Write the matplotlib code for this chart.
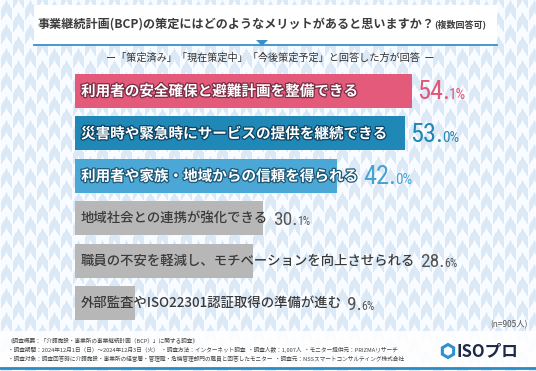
import numpy as np
import matplotlib
matplotlib.use("Agg")
import matplotlib.pyplot as plt
from matplotlib import patheffects, font_manager
from matplotlib.patches import Rectangle, FancyBboxPatch, Polygon, RegularPolygon
from matplotlib.transforms import IdentityTransform, offset_copy

plt.rcParams['font.family'] = ['Noto Sans CJK JP', 'DejaVu Sans']

# ---------------------------------------------------------------- data
labels = [
    "利用者の安全確保と避難計画を整備できる",
    "災害時や緊急時にサービスの提供を継続できる",
    "利用者や家族・地域からの信頼を得られる",
    "地域社会との連携が強化できる",
    "職員の不安を軽減し、モチベーションを向上させられる",
    "外部監査やISO22301認証取得の準備が進む",
]
values = [54.1, 53.0, 42.0, 30.1, 28.6, 9.6]
bar_colors = ["#E35A7B", "#1F88B6", "#4AA7D6", "#B7B7B7", "#B7B7B7", "#B7B7B7"]
value_colors = ["#E0577A", "#2187B4", "#45A2D2", "#555555", "#555555", "#555555"]
outline_colors = ["#7A2E45", "#0E4463", "#1C5878", None, None, None]

title = "事業継続計画(BCP)の策定にはどのようなメリットがあると思いますか？"
title_small = "(複数回答可)"
subtitle = "ー「策定済み」「現在策定中」「今後策定予定」と回答した方が回答  ー"
n_note = "(n=905人)"
footer = [
    "《調査概要：「介護施設・事業所の事業継続計画（BCP）」に関する調査》",
    "・調査期間：2024年12月1日（日）～2024年12月3日（火）  ・調査方法：インターネット調査  ・調査人数：1,007人  ・モニター提供元：PRIZMAリサーチ",
    "・調査対象：調査回答時に介護施設・事業所の経営層・管理職・危機管理部門の職員と回答したモニター  ・調査元：NSSスマートコンサルティング株式会社",
]

names = {f.name for f in font_manager.fontManager.ttflist}
num_font = next((f for f in ["Roboto Condensed", "Liberation Sans Narrow", "Roboto"] if f in names), "DejaVu Sans")

W, H = 536, 371
fig = plt.figure(figsize=(W / 100, H / 100), dpi=100)

# ---------------------------------------------------------------- background
bg = fig.add_axes([0, 0, 1, 1])
bg.set_xlim(0, W)
bg.set_ylim(H, 0)
bg.axis('off')

yy, xx = np.mgrid[0:H, 0:W]
cw, ch = 12, 24
col = xx // cw
u = (xx % cw) / cw
v = ((yy + (col % 2) * ch / 2) % ch) / ch
shade = ((v - np.abs(u - 0.5) * 0.8) % 1.0) < 0.5
pale = np.array([0.86, 0.915, 0.97])
white = np.array([0.975, 0.985, 1.0])
img = np.where(shade[..., None], pale, white)
img[(xx % cw) == 0] = white
bg.imshow(img, extent=(0, W, H, 0), aspect='auto', zorder=0)

# title box
bg.add_patch(FancyBboxPatch((34, 5), 463, 40, boxstyle="round,pad=0,rounding_size=3",
                            fc="white", ec="none", zorder=1))
bg.plot([34, 497], [45, 45], color="#3A90C8", lw=1.3, zorder=2)
bg.add_patch(Polygon([[256, 40], [268, 40], [262, 46]], closed=True, fc="#3A90C8", ec="none", zorder=2))
t = bg.text(38, 24, title, fontsize=8.7, fontweight='bold', color="#3C3C3C", va='center', ha='left', zorder=3)
fig.canvas.draw()
r = fig.canvas.get_renderer()
bb = t.get_window_extent(r)
bg.text(bg.transData.inverted().transform((bb.x1, 0))[0] - 1, 24.5, title_small, fontsize=6.5,
        fontweight='bold', color="#3C3C3C", va='center', ha='left', zorder=3)
bg.text(270, 58, subtitle, fontsize=7.3, color="#333333", va='center', ha='center', zorder=3)

# footer
bg.add_patch(Rectangle((0, 331), W, 36, fc="white", ec="none", alpha=0.9, zorder=1))
bg.plot([0, W], [368, 368], color="#2A8CC4", lw=2, zorder=2)
for i, line in enumerate(footer):
    bg.text(8, 340 + i * 9.5, line, fontsize=4.1, color="#444444", va='center', ha='left', zorder=3)
bg.text(528, 325, n_note, fontsize=6, color="#555555", va='center', ha='right', zorder=3)
bg.add_patch(RegularPolygon((448, 351), numVertices=6, radius=6.5, orientation=0,
                            fc="white", ec="#2E92D2", lw=2.2, zorder=3))
bg.text(456, 351, "ISOプロ", fontsize=12, fontweight='bold', color="#1C2A48", va='center', ha='left', zorder=3)

# ---------------------------------------------------------------- bars
px_per_pct = 6.23
left_px = 75
top_px, bot_px = 69.5, 324.5
ax = fig.add_axes([left_px / W, 1 - bot_px / H, 1 - left_px / W, (bot_px - top_px) / H])
ax.set_xlim(0, (W - left_px) / px_per_pct)
ax.set_ylim(len(values) - 0.5, -0.5)
ax.patch.set_alpha(0)
ax.axis('off')

pos = np.arange(len(values))
bars = ax.barh(pos, values, height=0.8, color=bar_colors, zorder=2)

label_tf = offset_copy(ax.transData, fig=fig, x=6, y=0, units='dots')
label_texts = []
for i, (lab, bar) in enumerate(zip(labels, bars)):
    if outline_colors[i]:
        under = ax.text(0, i, lab, transform=label_tf, fontsize=10.5, fontweight='bold',
                        color=bar_colors[i], va='center', ha='left', zorder=3)
        top = ax.text(0, i, lab, transform=label_tf, fontsize=10.5, fontweight='bold',
                      color="white", va='center', ha='left', zorder=4,
                      path_effects=[patheffects.withStroke(linewidth=1.8, foreground=outline_colors[i])])
        top.set_clip_path(bar)
        label_texts.append(under)
    else:
        tx = ax.text(0, i, lab, transform=label_tf, fontsize=9.6, fontweight='medium', color="#3A3A3A",
                     va='center', ha='left', zorder=3)
        label_texts.append(tx)

fig.canvas.draw()
r = fig.canvas.get_renderer()
for i, (val, tx) in enumerate(zip(values, label_texts)):
    text_end = tx.get_window_extent(r).x1
    bar_end, yc = ax.transData.transform((val, i))
    x0 = max(text_end, bar_end) + 5
    big_fs, small_fs = (19, 11) if i < 3 else (14, 8.5)
    base = yc - (8.5 if i < 3 else 6.5)
    whole, frac = f"{val:.1f}".split(".")
    b = fig.text(x0, base, whole + ".", transform=IdentityTransform(), fontsize=big_fs,
                 family=num_font, color=value_colors[i], va='baseline', ha='left', zorder=5)
    bx = b.get_window_extent(r).x1 - (1.5 if i < 3 else 0.6)
    fig.text(bx, base, frac + "%", transform=IdentityTransform(), fontsize=small_fs,
             family=num_font, color=value_colors[i], va='baseline', ha='left', zorder=5)

fig.savefig("out.png", dpi=100)
